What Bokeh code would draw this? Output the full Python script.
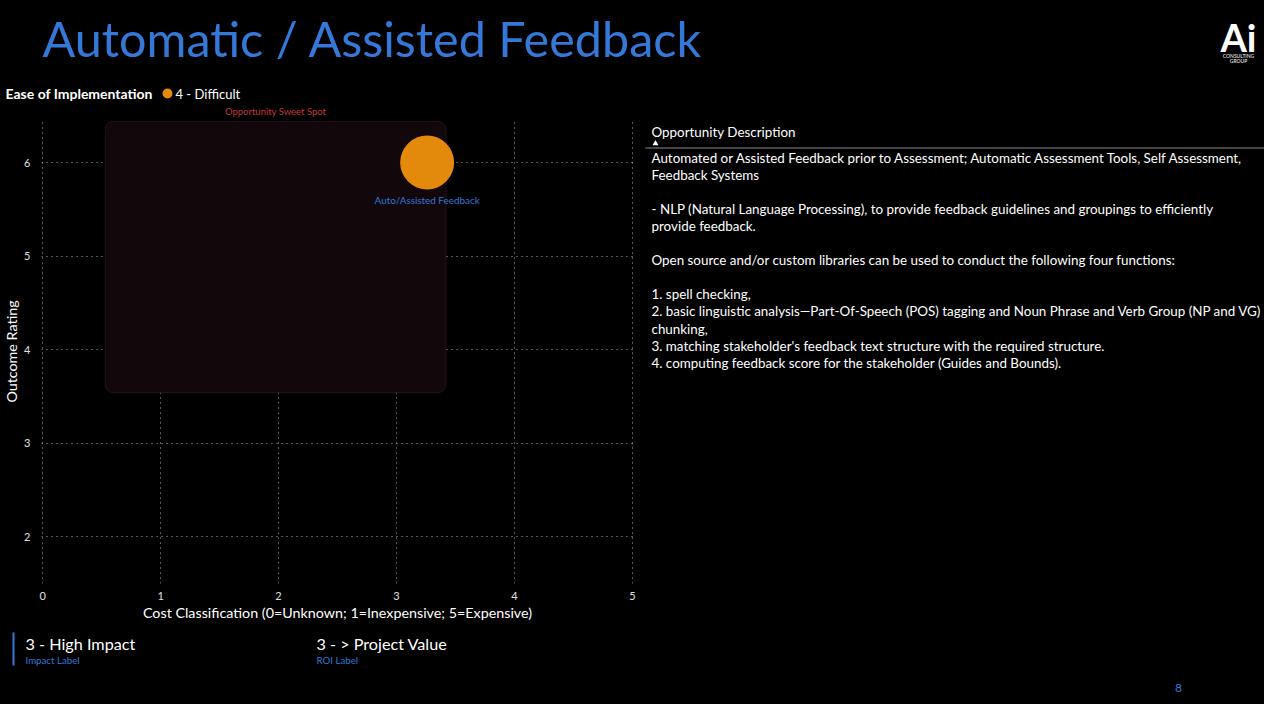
from bokeh.plotting import figure
from bokeh.layouts import column, row
from bokeh.models import BoxAnnotation, FixedTicker, ColumnDataSource
from bokeh.core.properties import value
from bokeh.embed import file_html
from bokeh.resources import INLINE

# ---------------- data ----------------
opportunity = ["Auto/Assisted Feedback"]
cost_classification = [3.26]
outcome_rating = [6.0]
ease_category = ["4 - Difficult"]
x_ticks = [0, 1, 2, 3, 4, 5]
y_ticks = [2, 3, 4, 5, 6]
sweet_left, sweet_right = 0.53, 3.42
sweet_bottom, sweet_top = 3.54, 6.44
impact_value = "3 - High Impact"
roi_value = "3 - > Project Value"
description_lines = [
    "Automated or Assisted Feedback prior to Assessment; Automatic Assessment Tools, Self Assessment,",
    "Feedback Systems",
    "",
    "- NLP (Natural Language Processing), to provide feedback guidelines and groupings to efficiently",
    "provide feedback.",
    "",
    "Open source and/or custom libraries can be used to conduct the following four functions:",
    "",
    "1. spell checking,",
    "2. basic linguistic analysis\u2014Part-Of-Speech (POS) tagging and Noun Phrase and Verb Group (NP and VG)",
    "chunking,",
    "3. matching stakeholder's feedback text structure with the required structure.",
    "4. computing feedback score for the stakeholder (Guides and Bounds).",
]

# ---------------- layout constants (canvas px) ----------------
W, H = 1264, 704
HEAD_H = 119
MID_H = 504
FOOT_H = H - HEAD_H - MID_H
FL, FR, FB_ = 41, 11, 40
CHART_W = FL + 592 + FR
DESC_W = W - CHART_W
XR = (-0.01, 5.01)
YR = (1.5, 6.46)
BLUE = "#3478d8"
ORANGE = "#e38a0c"
FONT = "Lato"
BG = {"background-color": "black"}


def panel(w, h, frame_h=None):
    f = figure(width=w, height=h, x_range=(0, w), y_range=(frame_h or h, 0),
               x_axis_type=None, y_axis_type=None, min_border=0,
               output_backend="svg", toolbar_location=None,
               background_fill_color="black", border_fill_color="black",
               outline_line_color=None, styles=BG)
    f.grid.visible = False
    return f


def txt(f, text, x, y, size, color="white", style="normal", align="left", baseline="middle"):
    f.text(x=[x], y=[y], text=[text], text_font=value(FONT), text_font_size=size,
           text_color=color, text_font_style=style, text_align=align, text_baseline=baseline)


# ---------------- header (y = page y) ----------------
head = panel(W, HEAD_H)
txt(head, "Automatic / Assisted Feedback", 42, 37, "48.5px", BLUE)
txt(head, "Ai", 1238, 36, "38px", "white", "bold", "center")
txt(head, "CONSULTING", 1238, 55, "5px", "white", "normal", "center")
txt(head, "GROUP", 1238, 60, "5px", "white", "normal", "center")
txt(head, "Ease of Implementation", 5, 93, "14px", "white", "bold")
head.scatter(x=[167], y=[93], size=10, fill_color=ORANGE, line_color=None)
txt(head, ease_category[0], 175, 93, "13px", "white")
# sweet-spot caption, aligned with the chart's x scale
chart_ppu = (CHART_W - FL - FR) / (XR[1] - XR[0])
cap_x = FL + ((sweet_left + sweet_right) / 2 - XR[0]) * chart_ppu
txt(head, "Opportunity Sweet Spot", cap_x, 111, "9.5px", "#c0393b", "normal", "center")

# ---------------- scatter chart ----------------
p = figure(width=CHART_W, height=MID_H, x_range=XR, y_range=YR,
           min_border_left=FL, min_border_right=FR, min_border_top=0, min_border_bottom=FB_,
           output_backend="svg", toolbar_location=None,
           background_fill_color="black", border_fill_color="black",
           outline_line_color=None, styles=BG)
for ax in (p.xaxis[0], p.yaxis[0]):
    ax.axis_line_color = None
    ax.major_tick_line_color = None
    ax.minor_tick_line_color = None
    ax.major_label_text_color = "#e0e0e0"
    ax.major_label_text_font = FONT
    ax.major_label_text_font_size = "11px"
    ax.axis_label_text_color = "white"
    ax.axis_label_text_font = FONT
    ax.axis_label_text_font_size = "14.3px"
    ax.axis_label_text_font_style = "normal"
p.xaxis.ticker = FixedTicker(ticks=x_ticks)
p.yaxis.ticker = FixedTicker(ticks=y_ticks)
p.xaxis.axis_label = "Cost Classification (0=Unknown; 1=Inexpensive; 5=Expensive)"
p.yaxis.axis_label = "Outcome Rating"
p.xaxis.major_label_standoff = 2
p.xaxis.axis_label_standoff = 1
p.yaxis.major_label_standoff = 5
p.yaxis.axis_label_standoff = 1

p.grid.grid_line_color = "#cfcfcf"
p.grid.grid_line_alpha = 0.85
p.grid.grid_line_dash = "1 4"
p.grid.grid_line_width = 1

p.add_layout(BoxAnnotation(left=sweet_left, right=sweet_right, bottom=sweet_bottom, top=sweet_top,
                           fill_color="#12070a", fill_alpha=1, line_color="#5a3842",
                           line_width=1, border_radius=8, level="underlay"))

src = ColumnDataSource(dict(x=cost_classification, y=outcome_rating, name=opportunity, ease=ease_category))
p.scatter("x", "y", source=src, size=54, fill_color=ORANGE, line_color=None)
p.text("x", "y", text="name", source=src, y_offset=37, text_align="center", text_baseline="middle",
       text_color=BLUE, text_font=value(FONT), text_font_size="9.9px")

# ---------------- description (local x = page x - CHART_W, y = page y - HEAD_H) ----------------
# the row aligns this panel's frame with the chart frame, so its y scale spans the chart frame height
desc = panel(DESC_W, MID_H, frame_h=MID_H - FB_)
dx = 651 - CHART_W
txt(desc, "Opportunity Description", dx, 12, "13.4px")
desc.scatter(x=[dx + 4], y=[24], marker="triangle", size=6, fill_color="white", line_color=None)
desc.segment(x0=[1], y0=[28.5], x1=[DESC_W], y1=[28.5], line_color="#8a8a8a", line_width=1)
line_idx = [i for i, t in enumerate(description_lines) if t]
desc_src = ColumnDataSource(dict(x=[dx] * len(line_idx),
                                 y=[38 + 17.1 * i for i in line_idx],
                                 text=[description_lines[i] for i in line_idx]))
desc.text("x", "y", text="text", source=desc_src, text_font=value(FONT), text_font_size="13.4px",
          text_color="white", text_align="left", text_baseline="middle")

# ---------------- footer (local y = page y - HEAD_H - MID_H) ----------------
foot = panel(W, FOOT_H)
fy = HEAD_H + MID_H
foot.quad(left=[12], right=[14], top=[632 - fy], bottom=[665 - fy], fill_color=BLUE, line_color=None)
txt(foot, impact_value, 25, 643 - fy, "16.2px")
txt(foot, "Impact Label", 25, 659 - fy, "9.7px", BLUE)
txt(foot, roi_value, 316, 643 - fy, "16.2px")
txt(foot, "ROI Label", 316, 659 - fy, "9.7px", BLUE)
txt(foot, "8", 1178, 687 - fy, "12px", BLUE, "normal", "center")

layout = column(head, row(p, desc, spacing=0, styles=BG), foot, spacing=0, styles=BG)
open("out.html", "w").write(file_html(layout, INLINE))
